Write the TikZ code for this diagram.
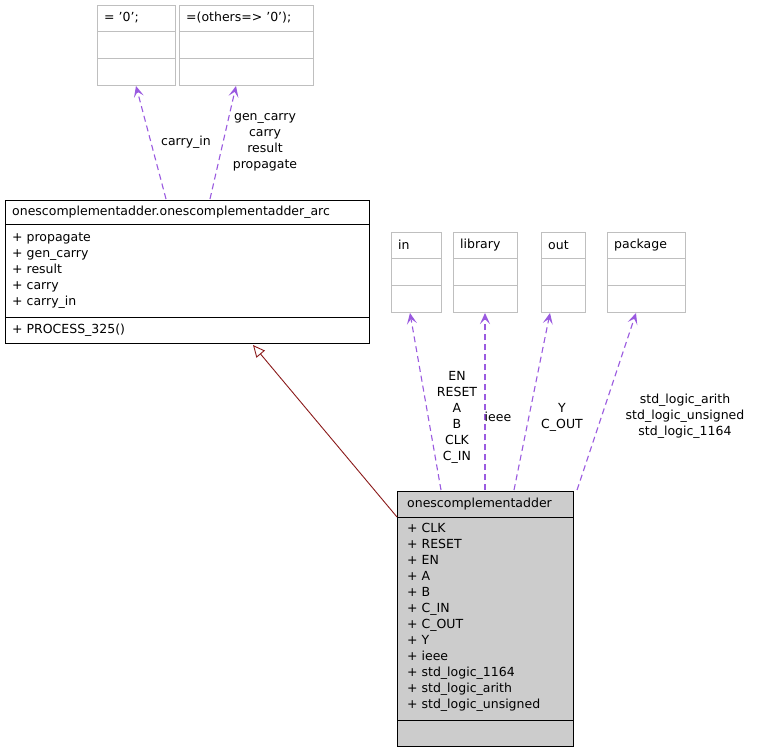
\documentclass[tikz,border=0pt]{standalone}
\usepackage{fontspec}
\setmainfont{DejaVu Sans}
\usetikzlibrary{arrows.meta}
\definecolor{pur}{HTML}{9A5AE0}
\definecolor{red1}{HTML}{8B1A1A}
\definecolor{gr}{HTML}{BFBFBF}
\begin{document}
\begin{tikzpicture}[x=1pt,y=-1pt,
  txt/.style={font=\fontsize{12.5}{16}\selectfont,inner sep=0pt},
  lbl/.style={font=\fontsize{12.5}{16}\selectfont,inner sep=0pt,align=center},
  dep/.style={pur,dash pattern=on 6pt off 4pt,line width=1.1pt,-{Stealth[length=11pt,width=10pt,inset=5pt]}},
  inh/.style={red1,line width=0.9pt,-{Triangle[open,length=12pt,width=11pt,fill=white]}}]
\useasboundingbox (0,0) rectangle (757,755);
\fill[white] (0,0) rectangle (757,755);
\newcommand{\ubox}[6]{%
  \draw[gr] (#2,#3) rectangle (#4,#5);
  \draw[gr] (#2,{#3+(#5-#3)/3}) -- (#4,{#3+(#5-#3)/3});
  \draw[gr] (#2,{#3+2*(#5-#3)/3}) -- (#4,{#3+2*(#5-#3)/3});
  \node[txt,anchor=west] at ({#2+7},{#3+13}) {#6};
}
\ubox{z}{97}{5}{175}{85}{= '0';}
\ubox{o}{179}{5}{313}{85}{=(others=> '0');}
\ubox{in}{391}{232}{441}{312}{in}
\ubox{lib}{453}{232}{517}{312}{library}
\ubox{out}{541}{232}{585}{312}{out}
\ubox{pk}{607}{232}{685}{312}{package}
\draw[black] (5,200) rectangle (369,343);
\draw (5,224) -- (369,224);
\draw (5,317) -- (369,317);
\node[txt,anchor=west] (arct) at (12,212) {onescomplementadder.onescomplementadder\_arc};
\node[txt,anchor=north west,align=left] (arca) at (12,233) {+ propagate\\+ gen\_carry\\+ result\\+ carry\\+ carry\_in};
\node[txt,anchor=west] (arcm) at (12,330) {+ PROCESS\_325()};
\draw[fill=gr!80] (397,491) rectangle (573,746);
\draw (397,517) -- (573,517);
\draw (397,720) -- (573,720);
\node[txt,anchor=west] (mt) at (407,504) {onescomplementadder};
\node[txt,anchor=north west,align=left] (ma) at (407,523) {+ CLK\\+ RESET\\+ EN\\+ A\\+ B\\+ C\_IN\\+ C\_OUT\\+ Y\\+ ieee\\+ std\_logic\_1164\\+ std\_logic\_arith\\+ std\_logic\_unsigned};
\coordinate (ai1) at (166,199);
\coordinate (ai2) at (210,199);
\coordinate (m1) at (441,490);
\coordinate (m2) at (485,490);
\coordinate (m3) at (514,490);
\coordinate (m4) at (577,490);
\coordinate (mi) at (397,517);
\coordinate (ah) at (253,345);
\draw[dep] (ai1) -- (136,86);
\draw[dep] (ai2) -- (236,86);
\draw[dep] (m1) -- (410,313);
\draw[dep] (m2) -- (485,313);
\draw[dep] (m3) -- (550,313);
\draw[dep] (m4) -- (636,313);
\draw[inh] (mi) -- (ah);
\node[lbl] at (186,142) {carry\_in};
\node[lbl] at (265,142) {gen\_carry\\carry\\result\\propagate};
\node[lbl] at (457,417) {EN\\RESET\\A\\B\\CLK\\C\_IN};
\node[lbl] at (498,417) {ieee};
\node[lbl] at (562,417) {Y\\C\_OUT};
\node[lbl] at (685,416) {std\_logic\_arith\\std\_logic\_unsigned\\std\_logic\_1164};
\end{tikzpicture}
\end{document}
